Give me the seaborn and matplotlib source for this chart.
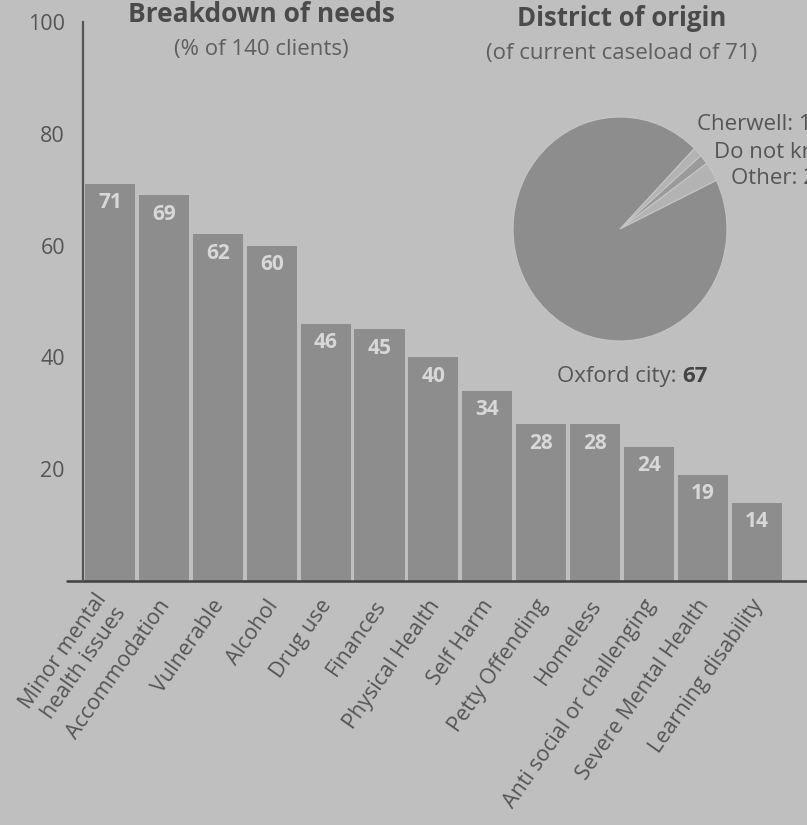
import matplotlib
matplotlib.use("Agg")
import matplotlib.pyplot as plt
import matplotlib.transforms as mtransforms
import seaborn as sns
import pandas as pd
from matplotlib.lines import Line2D

# ---- data ----
needs = ["Minor mental\nhealth issues", "Accommodation", "Vulnerable", "Alcohol",
         "Drug use", "Finances", "Physical Health", "Self Harm", "Petty Offending",
         "Homeless", "Anti social or challenging", "Severe Mental Health",
         "Learning disability"]
need_pct = [71, 69, 62, 60, 46, 45, 40, 34, 28, 28, 24, 19, 14]
y_ticks = [20, 40, 60, 80, 100]

districts = ["Cherwell", "Do not know", "Other", "Oxford city"]
district_counts = [1, 1, 2, 67]

# ---- style ----
BG = "#bfbfbf"
BAR = "#8d8d8d"
TXT = "#555555"
sns.set_theme(style="white")
plt.rcParams["font.family"] = ["Open Sans", "DejaVu Sans"]

fig = plt.figure(figsize=(8.07, 8.25), dpi=100, facecolor=BG)
ax = fig.add_axes([83 / 807, 1 - 581 / 825, 1 - 83 / 807, (581 - 22) / 825])
ax.set_facecolor(BG)

df = pd.DataFrame({"need": needs, "pct": need_pct})
sns.barplot(data=df, x="need", y="pct", color=BAR, saturation=1, width=0.93,
            edgecolor="none", ax=ax)

ax.set_xlim(-0.5, 12.93)
ax.set_ylim(0, 100)
ax.set_yticks(y_ticks)
ax.set_xlabel("")
ax.set_ylabel("")
for s in ["top", "right", "bottom"]:
    ax.spines[s].set_visible(False)
ax.spines["left"].set_color("#555555")
ax.spines["left"].set_linewidth(1.6)
ax.tick_params(axis="y", length=9, width=1.6, color="#555555", labelcolor=TXT,
               labelsize=15.5, pad=4)
ax.tick_params(axis="x", length=0, labelcolor=TXT, labelsize=15.5, pad=0)
shift = mtransforms.ScaledTranslation(2 / 100, -21 / 100, fig.dpi_scale_trans)
for lbl in ax.get_xticklabels():
    lbl.set_rotation(55)
    lbl.set_ha("right")
    lbl.set_va("center")
    lbl.set_rotation_mode("anchor")
    lbl.set_transform(lbl.get_transform() + shift)
ax.add_line(Line2D([-0.022, 1.0], [0, 0], transform=ax.transAxes, color="#404040",
                   lw=1.8, clip_on=False))

# value labels inside bars
for p in ax.patches:
    ax.annotate(f"{p.get_height():.0f}", (p.get_x() + p.get_width() / 2, p.get_height()),
                xytext=(0, -6), textcoords="offset points", ha="center", va="top",
                color="#d8d8d8", fontsize=15, fontweight="bold")

# titles
fig.text(261 / 807, 1 - 15 / 825, "Breakdown of needs", ha="center", va="center",
         fontsize=19, fontweight="bold", color="#4a4a4a")
fig.text(261 / 807, 1 - 50 / 825, "(% of 140 clients)", ha="center", va="center",
         fontsize=16, color="#5e5e5e")
fig.text(622 / 807, 1 - 18 / 825, "District of origin", ha="center", va="center",
         fontsize=18.5, fontweight="bold", color="#4a4a4a")
fig.text(622 / 807, 1 - 53 / 825, "(of current caseload of 71)", ha="center",
         va="center", fontsize=16, color="#5e5e5e")

# pie
rx, ry = 107, 112
pax = fig.add_axes([(620 - rx) / 807, 1 - (229 + ry) / 825, 2 * rx / 807, 2 * ry / 825])
pax.set_facecolor("none")
pax.pie(district_counts, colors=["#b3b3b3", "#9a9a9a", "#b3b3b3", BAR],
        startangle=46, counterclock=False,
        wedgeprops=dict(edgecolor="#c6c6c6", linewidth=0.8))
pax.set_aspect("auto")
pax.set_xlim(-1, 1)
pax.set_ylim(-1, 1)
pax.axis("off")

fig.text(697 / 807, 1 - 125 / 825, f"{districts[0]}: {district_counts[0]}",
         ha="left", va="center", fontsize=16, color=TXT)
fig.text(714 / 807, 1 - 152 / 825, f"{districts[1]}: {district_counts[1]}",
         ha="left", va="center", fontsize=16, color=TXT)
fig.text(731 / 807, 1 - 178 / 825, f"{districts[2]}: {district_counts[2]}",
         ha="left", va="center", fontsize=16, color=TXT)
fig.text(682 / 807, 1 - 376 / 825, f"{districts[3]}: ", ha="right", va="center",
         fontsize=16, color=TXT)
fig.text(682 / 807, 1 - 376 / 825, f"{district_counts[3]}", ha="left", va="center",
         fontsize=16, fontweight="bold", color="#444444")

fig.savefig("out.png", dpi=100, facecolor=BG)
